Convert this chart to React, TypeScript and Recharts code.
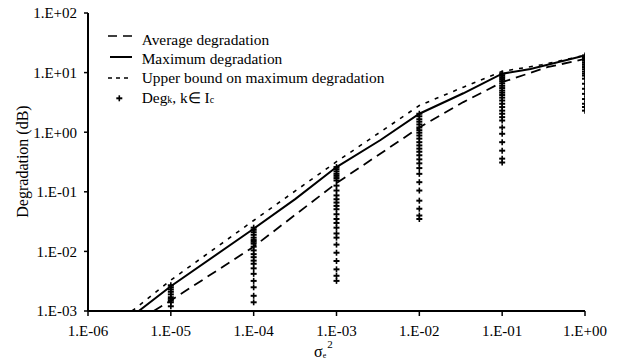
import React from 'react';
import { ComposedChart, Line, Scatter, XAxis, YAxis, Legend } from 'recharts';

// ---- data ----
const sigmaTicks = [1e-6, 1e-5, 1e-4, 1e-3, 1e-2, 1e-1, 1];
const degTicks = [1e-3, 1e-2, 1e-1, 1, 10, 100];

const avgSigma = [6.2e-6, 1e-5, 1e-4, 1e-3, 1e-2, 3.4e-2, 1e-1, 3.5e-1, 1];
const avgValues = [1e-3, 1.5e-3, 0.012, 0.14, 1.2, 3.2, 6.9, 12.3, 17];

const maxSigma = [4.1e-6, 1e-5, 1e-4, 3.2e-4, 1e-3, 3.4e-3, 1e-2, 3.4e-2, 1e-1, 2.2e-1, 1];
const maxValues = [1e-3, 2.6e-3, 0.024, 0.076, 0.26, 0.74, 2.04, 4.5, 9.6, 11.5, 19.4];

const upperSigma = [3.4e-6, 1e-5, 1e-4, 1e-3, 1e-2, 3.4e-2, 1e-1, 3e-1, 1];
const upperValues = [1e-3, 3.3e-3, 0.033, 0.32, 2.8, 5.7, 10.5, 13.5, 19.5];

const degCol1e5 = [0.0027, 0.0025, 0.0023, 0.0021, 0.0019, 0.0017, 0.0016, 0.0015, 0.0014, 0.0012];
const degCol1e4 = [0.025, 0.023, 0.021, 0.019, 0.017, 0.0155, 0.0145, 0.0135, 0.012, 0.0104, 0.009, 0.008, 0.007, 0.0062, 0.0052, 0.0042, 0.0032, 0.0025, 0.0018, 0.0014];
const degCol1e3 = [0.26, 0.24, 0.22, 0.2, 0.185, 0.17, 0.155, 0.127, 0.105, 0.087, 0.075, 0.066, 0.058, 0.051, 0.042, 0.035, 0.03, 0.025, 0.02, 0.017, 0.013, 0.0095, 0.0069, 0.005, 0.0039, 0.0032];
const degCol1e2 = [2.04, 1.85, 1.65, 1.5, 1.35, 1.2, 1.08, 0.98, 0.88, 0.78, 0.68, 0.6, 0.53, 0.47, 0.41, 0.35, 0.3, 0.25, 0.2, 0.145, 0.105, 0.071, 0.052, 0.04, 0.035];
const degCol1e1 = [9.6, 9.0, 8.4, 7.8, 7.2, 6.6, 6.0, 5.5, 5.0, 4.6, 4.2, 3.8, 3.4, 3.0, 2.64, 2.3, 2.04, 1.79, 1.57, 1.2, 0.94, 0.68, 0.49, 0.36, 0.31];
const degCol1e0 = [19.4, 18.2, 17, 15.8, 14.6, 13.5, 12.4, 11.4, 10.4, 9.6, 8.9, 7.9, 6.5, 5.35, 4.4, 3.6, 3.0, 2.65, 2.3];
const degColSigma = [1e-5, 1e-4, 1e-3, 1e-2, 1e-1, 1];
const degColumns = [degCol1e5, degCol1e4, degCol1e3, degCol1e2, degCol1e1, degCol1e0];

// ---- build series ----
const toPts = (xs: number[], ys: number[]) => xs.map((x, i) => ({ x, y: ys[i] }));
const avgData = toPts(avgSigma, avgValues);
const maxData = toPts(maxSigma, maxValues);
const upperData = toPts(upperSigma, upperValues);
const degData = degColumns.flatMap((col, i) => col.map((y) => ({ x: degColSigma[i], y })));

const FONT = 'Liberation Serif, Times New Roman, serif';

const fmt = (v: number) => {
  const e = Math.round(Math.log10(v));
  const a = Math.abs(e);
  return `1.E${e < 0 ? '-' : '+'}${a < 10 ? '0' + a : a}`;
};

const PlusShape = (props: any) => {
  const { cx, cy } = props;
  if (cx == null || cy == null) return null;
  return (
    <g>
      <line x1={cx - 3} x2={cx + 3} y1={cy} y2={cy} stroke="#000" strokeWidth={2} />
      <line x1={cx} x2={cx} y1={cy - 3} y2={cy + 3} stroke="#000" strokeWidth={1.6} />
    </g>
  );
};

const LegendBox = () => (
  <svg width={360} height={84} style={{ display: 'block', overflow: 'visible' }}>
    <line x1={8} x2={32} y1={8} y2={8} stroke="#000" strokeWidth={1.5} strokeDasharray="9 6" />
    <text x={41.7} y={17} fontFamily={FONT} fontSize={15.4} fill="#000">Average degradation</text>
    <line x1={10} x2={32} y1={29} y2={29} stroke="#000" strokeWidth={2} />
    <text x={41.7} y={35.5} fontFamily={FONT} fontSize={15.4} fill="#000">Maximum degradation</text>
    <line x1={8} x2={32} y1={50} y2={50} stroke="#000" strokeWidth={1.5} strokeDasharray="4 4" />
    <text x={41.7} y={55.3} fontFamily={FONT} fontSize={15.4} fill="#000">Upper bound on maximum degradation</text>
    <line x1={16.3} x2={22.3} y1={70.3} y2={70.3} stroke="#000" strokeWidth={2} />
    <line x1={19.3} x2={19.3} y1={67.3} y2={73.3} stroke="#000" strokeWidth={1.6} />
    <text x={41.7} y={74.7} fontFamily={FONT} fontSize={15.4} fill="#000">
      Deg<tspan fontSize={10}>k</tspan>, k∈ I<tspan fontSize={10}>c</tspan>
    </text>
  </svg>
);

const YLabel = () => (
  <text
    x={22}
    y={161.5}
    transform="rotate(-90 22 161.5)"
    textAnchor="middle"
    dominantBaseline="central"
    fontFamily={FONT}
    fontSize={16}
    fill="#000"
  >
    Degradation (dB)
  </text>
);

const XLabel = () => (
  <text x={314} y={357} fontFamily={FONT} fill="#000">
    <tspan fontSize={16}>σ</tspan>
    <tspan fontSize={8} dy={1}>e</tspan>
    <tspan fontSize={11} dy={-10} dx={1}>2</tspan>
  </text>
);

export default function App() {
  return (
    <div style={{ position: 'absolute', left: 0, top: 0, width: 626, height: 360, background: '#fff' }}>
      <ComposedChart width={626} height={360} margin={{ top: 13, right: 41, left: 0, bottom: 0 }}>
        <XAxis
          dataKey="x"
          type="number"
          scale="log"
          domain={[1e-6, 1]}
          ticks={sigmaTicks}
          interval={0}
          tickFormatter={fmt}
          height={49}
          axisLine={{ stroke: '#000', strokeWidth: 2 }}
          tickLine={{ stroke: '#000', strokeWidth: 1.5 }}
          tickSize={5}
          tickMargin={9}
          tick={{ fontSize: 15, fontFamily: FONT, fill: '#000' }}
          label={{ content: () => <XLabel /> }}
          allowDataOverflow
        />
        <YAxis
          dataKey="y"
          type="number"
          scale="log"
          domain={[1e-3, 100]}
          ticks={degTicks}
          interval={0}
          tickFormatter={fmt}
          width={88}
          axisLine={{ stroke: '#000', strokeWidth: 2 }}
          tickLine={{ stroke: '#000', strokeWidth: 1.5 }}
          tickSize={4}
          tickMargin={7}
          tick={{ fontSize: 15, fontFamily: FONT, fill: '#000' }}
          label={{ content: () => <YLabel /> }}
          allowDataOverflow
        />
        <Legend
          layout="vertical"
          align="center"
          verticalAlign="middle"
          content={() => <LegendBox />}
          wrapperStyle={{ top: 28, left: 100, width: 360 }}
        />
        <Scatter data={degData} dataKey="y" shape={<PlusShape />} isAnimationActive={false} />
        <Line data={avgData} dataKey="y" type="linear" stroke="#000" strokeWidth={1.8} strokeDasharray="10 6" dot={false} isAnimationActive={false} />
        <Line data={maxData} dataKey="y" type="linear" stroke="#000" strokeWidth={2} dot={false} isAnimationActive={false} />
        <Line data={upperData} dataKey="y" type="linear" stroke="#000" strokeWidth={1.6} strokeDasharray="4 6" dot={false} isAnimationActive={false} />
      </ComposedChart>
    </div>
  );
}
